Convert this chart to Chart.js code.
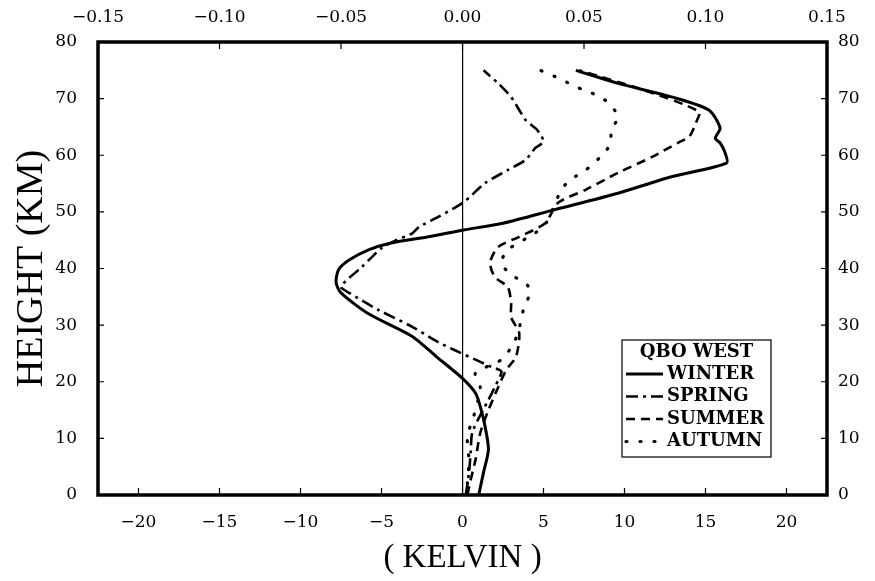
<!DOCTYPE html>
<html>
<head>
<meta charset="utf-8">
<script src="https://cdn.jsdelivr.net/npm/chart.js@4"></script>
<style>
  html, body { margin: 0; padding: 0; background: #fff; }
  #wrap { width: 875px; height: 581px; position: relative; }
</style>
</head>
<body>
<div id="wrap"><canvas id="qboChart"></canvas></div>
<script>
// heights (km) and temperature anomalies (K)
const winterHeight = [0, 4, 8, 12, 15.6, 18, 20.6, 24.4, 28, 32, 35.7, 37.5, 39.8, 41.5, 43.3, 44.5, 45.6, 46.8, 48, 50.4, 53.3, 56.2, 58.6, 60.5, 62.2, 63, 64.8, 68, 70.3, 72.7, 75];
const winterTemp = [1.0, 1.3, 1.6, 1.4, 1.1, 0.8, 0.0, -1.6, -3.1, -5.8, -7.5, -7.8, -7.65, -7.0, -5.8, -4.4, -2.1, 0.06, 2.5, 5.7, 9.6, 12.9, 16.3, 16.2, 15.9, 15.6, 15.9, 15.2, 12.9, 9.6, 7.0];

const springHeight = [0, 3.9, 7.4, 11, 14.1, 16.8, 19.1, 21.8, 22.6, 23.9, 25.6, 27, 29.7, 32.7, 35.7, 36.8, 40.3, 43.6, 45, 46.2, 47.3, 49.1, 51.7, 55.1, 57.4, 59.2, 61.3, 62.4, 64.5, 66.2, 68, 70.3, 72.7, 75];
const springTemp = [0.2, 0.4, 0.5, 0.6, 1.1, 1.6, 2.0, 2.4, 1.8, 0.8, -0.5, -1.5, -3.1, -5.2, -7.0, -7.5, -6.2, -5.0, -4.1, -3.1, -2.7, -1.5, 0.06, 1.4, 2.8, 3.9, 4.5, 5.0, 4.6, 3.9, 3.5, 3.0, 2.2, 1.3];

const summerHeight = [0, 2.6, 6.2, 11, 15, 19, 22.1, 24.4, 28.6, 31.4, 33.9, 36.7, 38.5, 41, 43.8, 45.6, 48, 51.6, 53.9, 56.9, 59.7, 62.2, 63.3, 65.7, 67.7, 71.5, 75];
const summerTemp = [0.3, 0.5, 0.8, 1.1, 1.6, 2.2, 2.7, 3.3, 3.5, 3.0, 3.0, 2.8, 2.0, 1.7, 2.2, 3.5, 5.1, 5.9, 7.6, 9.6, 11.7, 13.3, 14.0, 14.4, 14.6, 11.2, 7.2];

const autumnHeight = [2, 6, 10.3, 14, 18.9, 21.5, 23.9, 27, 30.6, 33.2, 35.9, 37.4, 38.9, 41, 43.3, 46.3, 48.2, 52.7, 55, 56.5, 58, 59.7, 61.8, 64.5, 66.8, 69.3, 70.7, 71.6, 72.8, 73.9, 75];
const autumnTemp = [0.3, 0.4, 0.3, 0.7, 1.1, 0.8, 2.4, 3.2, 3.6, 3.8, 4.2, 3.9, 3.0, 2.4, 2.8, 4.5, 5.2, 5.9, 6.4, 7.1, 7.9, 8.5, 9.1, 9.2, 9.6, 9.0, 8.2, 7.4, 6.5, 5.7, 4.8];

const kelvinTicks = [-20, -15, -10, -5, 0, 5, 10, 15, 20];
const topTicks = [-0.15, -0.10, -0.05, 0.00, 0.05, 0.10, 0.15];
const heightTicks = [0, 10, 20, 30, 40, 50, 60, 70, 80];

const legendTitle = "QBO WEST";
const seasonNames = ["WINTER", "SPRING", "SUMMER", "AUTUMN"];

function toPoints(temps, heights) {
  return heights.map((h, i) => ({ x: temps[i], y: h }));
}

function minusSign(str) {
  return str.replace("-", "\u2212");
}

const tickFont = { family: "DejaVu Serif", size: 17 };

// frame, inward tick marks and the boxed legend
const framePlugin = {
  id: "frame",
  afterDatasetsDraw(chart) {
    const { ctx, chartArea: a } = chart;
    ctx.save();
    ctx.strokeStyle = "#000";

    // inward ticks
    ctx.lineWidth = 1.2;
    const xs = chart.scales.x;
    const xt = chart.scales.xTop;
    const yl = chart.scales.y;
    ctx.beginPath();
    xs.ticks.forEach((t) => {
      const px = xs.getPixelForValue(t.value);
      ctx.moveTo(px, a.bottom);
      ctx.lineTo(px, a.bottom - 7);
    });
    xt.ticks.forEach((t) => {
      const px = xt.getPixelForValue(t.value);
      ctx.moveTo(px, a.top);
      ctx.lineTo(px, a.top + 7);
    });
    yl.ticks.forEach((t) => {
      const py = yl.getPixelForValue(t.value);
      ctx.moveTo(a.left, py);
      ctx.lineTo(a.left + 6, py);
      ctx.moveTo(a.right, py);
      ctx.lineTo(a.right - 6, py);
    });
    ctx.stroke();

    ctx.lineWidth = 3.5;
    ctx.strokeRect(a.left, a.top, a.right - a.left, a.bottom - a.top);

    // legend box
    const bx = 622, by = 340, bw = 149, bh = 117;
    ctx.lineWidth = 1.2;
    ctx.strokeRect(bx, by, bw, bh);
    ctx.fillStyle = "#000";
    ctx.font = "bold 18px 'DejaVu Serif'";
    ctx.textBaseline = "middle";
    ctx.textAlign = "center";
    ctx.fillText(legendTitle, bx + bw / 2, by + 12);
    ctx.textAlign = "left";
    chart.data.datasets.forEach((ds, i) => {
      const rowY = by + 34 + i * 22.5;
      ctx.save();
      ctx.lineWidth = ds.borderWidth;
      ctx.setLineDash(ds.borderDash || []);
      ctx.lineCap = ds.borderCapStyle || "butt";
      ctx.beginPath();
      ctx.moveTo(bx + 4, rowY);
      ctx.lineTo(bx + 41, rowY);
      ctx.stroke();
      ctx.restore();
      ctx.fillText(ds.label, bx + 45, rowY);
    });
    ctx.restore();
  },
};

const lineCommon = {
  showLine: true,
  pointRadius: 0,
  borderColor: "#000",
  backgroundColor: "#000",
  tension: 0.25,
  fill: false,
};

new Chart(document.getElementById("qboChart"), {
  type: "scatter",
  data: {
    datasets: [
      { ...lineCommon, label: seasonNames[0], data: toPoints(winterTemp, winterHeight), borderWidth: 3 },
      { ...lineCommon, label: seasonNames[1], data: toPoints(springTemp, springHeight), borderWidth: 2.6, borderDash: [12, 5, 3, 5] },
      { ...lineCommon, label: seasonNames[2], data: toPoints(summerTemp, summerHeight), borderWidth: 2.6, borderDash: [9, 6] },
      { ...lineCommon, label: seasonNames[3], data: toPoints(autumnTemp, autumnHeight), borderWidth: 3.2, borderDash: [1, 13], borderCapStyle: "round" },
    ],
  },
  options: {
    responsive: true,
    maintainAspectRatio: false,
    animation: false,
    layout: { padding: 0 },
    plugins: {
      legend: { display: false },
      tooltip: { enabled: false },
    },
    scales: {
      x: {
        type: "linear",
        position: "bottom",
        min: -22.5,
        max: 22.5,
        afterBuildTicks: (s) => { s.ticks = kelvinTicks.map((v) => ({ value: v })); },
        afterFit: (s) => { s.height = 86; },
        border: { display: false },
        grid: {
          drawTicks: false,
          lineWidth: 1.2,
          color: (c) => (c.tick && c.tick.value === 0 ? "#000" : "rgba(0,0,0,0)"),
        },
        ticks: {
          autoSkip: false,
          maxRotation: 0,
          padding: 17,
          color: "#000",
          font: tickFont,
          callback: (v) => minusSign(String(v)),
        },
        title: { display: true, text: "( KELVIN )", color: "#000", font: { family: "Liberation Serif", size: 33 }, padding: { top: 0, bottom: 3 } },
      },
      xTop: {
        type: "linear",
        position: "top",
        min: -0.15,
        max: 0.15,
        afterBuildTicks: (s) => { s.ticks = topTicks.map((v) => ({ value: v })); },
        afterFit: (s) => { s.height = 42; },
        border: { display: false },
        grid: { display: false, drawTicks: false },
        ticks: {
          autoSkip: false,
          maxRotation: 0,
          padding: 14,
          color: "#000",
          font: tickFont,
          callback: (v) => minusSign(Number(v).toFixed(2)),
        },
      },
      y: {
        type: "linear",
        position: "left",
        min: 0,
        max: 80,
        afterBuildTicks: (s) => { s.ticks = heightTicks.map((v) => ({ value: v })); },
        afterFit: (s) => { s.width = 98; },
        border: { display: false },
        grid: { display: false, drawTicks: false },
        ticks: { autoSkip: false, padding: 21, color: "#000", font: tickFont },
        title: { display: true, text: "HEIGHT (KM)", color: "#000", font: { family: "Liberation Serif", size: 38 }, padding: { top: 9, bottom: 0 } },
      },
      yRight: {
        type: "linear",
        position: "right",
        min: 0,
        max: 80,
        afterBuildTicks: (s) => { s.ticks = heightTicks.map((v) => ({ value: v })); },
        afterFit: (s) => { s.width = 48; },
        border: { display: false },
        grid: { display: false, drawTicks: false },
        ticks: { autoSkip: false, padding: 11, color: "#000", font: tickFont },
      },
    },
  },
  plugins: [framePlugin],
});
</script>
</body>
</html>
